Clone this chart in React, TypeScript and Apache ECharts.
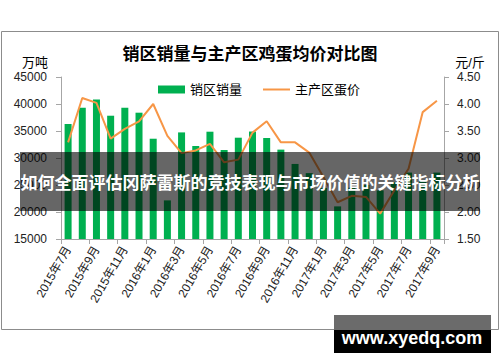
import React, { useEffect, useRef } from "react";
import * as echarts from "echarts";

const categories: string[] = [
  "2015年7月", "2015年8月", "2015年9月", "2015年10月", "2015年11月", "2015年12月",
  "2016年1月", "2016年2月", "2016年3月", "2016年4月", "2016年5月", "2016年6月",
  "2016年7月", "2016年8月", "2016年9月", "2016年10月", "2016年11月", "2016年12月",
  "2017年1月", "2017年2月", "2017年3月", "2017年4月", "2017年5月", "2017年6月",
  "2017年7月", "2017年8月", "2017年9月",
];

const salesVolume: number[] = [
  36300, 39300, 40850, 37830, 39300, 38390,
  33570, 22150, 34740, 32220, 34870, 31480,
  33760, 34900, 33700, 31550, 28900, 27200,
  24450, 21040, 24500, 25000, 24000, 25500,
  27300, 25800, 27300,
];

const eggPrice: number[] = [
  3.29, 4.11, 4.02, 3.36, 3.54, 3.68,
  4.0, 3.41, 3.09, 3.14, 3.26, 2.92,
  2.97, 3.47, 3.68, 3.29, 3.29, 3.1,
  2.65, 2.18, 2.3, 2.28, 1.97, 2.4,
  2.8, 3.85, 4.06,
];

const leftTicks = { min: 15000, max: 45000, interval: 5000 };
const rightTicks = { min: 1.5, max: 4.5, interval: 0.5 };

const titleText = "销区销量与主产区鸡蛋均价对比图";
const seriesNames = ["销区销量", "主产区蛋价"];
const leftUnit = "万吨";
const rightUnit = "元/斤";
const bannerText = "如何全面评估冈萨雷斯的竞技表现与市场价值的关键指标分析";
const watermarkText = "www.xyedq.com";

const CJK = "'Liberation Sans', 'Noto Sans CJK SC', sans-serif";

export default function App() {
  const ref = useRef<HTMLDivElement>(null);

  useEffect(() => {
    if (!ref.current) return;
    const chart = echarts.init(ref.current, undefined, { renderer: "svg" });
    const axisGray = "#a6a6a6";
    chart.setOption({
      animation: false,
      backgroundColor: "#ffffff",
      textStyle: { fontFamily: CJK },
      title: {
        text: titleText,
        left: "center",
        top: 41,
        textStyle: { fontSize: 17, fontWeight: "bold", color: "#000", fontFamily: CJK },
      },
      legend: {
        left: 153,
        top: 78,
        itemWidth: 27,
        itemHeight: 8,
        itemGap: 20,
        textStyle: { fontSize: 13, color: "#000", fontFamily: CJK },
        data: [
          { name: seriesNames[0], icon: "rect" },
          { name: seriesNames[1], itemStyle: { opacity: 0 } },
        ],
      },
      grid: { left: 61, right: 56, top: 77, bottom: 123 },
      xAxis: {
        type: "category",
        data: categories,
        boundaryGap: true,
        axisLine: { show: true, lineStyle: { color: axisGray, width: 1 } },
        axisTick: { show: true, interval: 1, length: 5, alignWithLabel: false, lineStyle: { color: axisGray } },
        axisLabel: {
          interval: 1,
          rotate: 60,
          margin: 8,
          fontSize: 12,
          color: "#222",
          fontFamily: CJK,
        },
        splitLine: { show: false },
      },
      yAxis: [
        {
          type: "value",
          min: leftTicks.min,
          max: leftTicks.max,
          interval: leftTicks.interval,
          axisLine: { show: true, lineStyle: { color: axisGray } },
          axisTick: { show: true, length: 5, lineStyle: { color: axisGray } },
          axisLabel: {
            fontSize: 12,
            color: "#222",
            margin: 14,
            fontFamily: CJK,
            formatter: (v: number) => String(v),
          },
          splitLine: { show: false },
        },
        {
          type: "value",
          min: rightTicks.min,
          max: rightTicks.max,
          interval: rightTicks.interval,
          position: "right",
          axisLine: { show: true, lineStyle: { color: axisGray } },
          axisTick: { show: true, length: 5, lineStyle: { color: axisGray } },
          axisLabel: {
            fontSize: 12,
            color: "#222",
            margin: 13,
            fontFamily: CJK,
            formatter: (v: number) => v.toFixed(2),
          },
          splitLine: { show: false },
        },
      ],
      series: [
        {
          name: seriesNames[0],
          type: "bar",
          yAxisIndex: 0,
          data: salesVolume,
          barWidth: 7,
          itemStyle: { color: "#00b050" },
        },
        {
          name: seriesNames[1],
          type: "line",
          yAxisIndex: 1,
          data: eggPrice,
          symbol: "none",
          lineStyle: { color: "#f79646", width: 2 },
          itemStyle: { color: "#f79646" },
        },
      ],
      graphic: [
        {
          type: "rect",
          shape: { x: 1.5, y: 31.5, width: 497, height: 298 },
          style: { fill: "none", stroke: "#8c8c8c", lineWidth: 1 },
          z: 1,
        },
        {
          type: "text",
          x: 35,
          y: 62,
          style: { text: leftUnit, fill: "#000", font: `13px ${CJK}`, textAlign: "center", textVerticalAlign: "middle" },
        },
        {
          type: "text",
          x: 470,
          y: 62,
          style: { text: rightUnit, fill: "#000", font: `13px ${CJK}`, textAlign: "center", textVerticalAlign: "middle" },
        },
        {
          type: "rect",
          z: 100,
          shape: { x: 20, y: 152, width: 460, height: 59 },
          style: { fill: "rgba(0,0,0,0.6)" },
        },
        {
          type: "text",
          z: 101,
          x: 250,
          y: 183,
          style: {
            text: bannerText,
            fill: "#fff",
            font: `bold 17px ${CJK}`,
            textAlign: "center",
            textVerticalAlign: "middle",
          },
        },
        {
          type: "rect",
          z: 100,
          shape: { x: 334, y: 315, width: 157, height: 15 },
          style: { fill: "#6b6b6b" },
        },
        {
          type: "rect",
          z: 100,
          shape: { x: 334, y: 330, width: 157, height: 23 },
          style: { fill: "#000" },
        },
        {
          type: "text",
          z: 101,
          x: 412,
          y: 338,
          style: {
            text: watermarkText,
            fill: "#fff",
            font: `bold 18px ${CJK}`,
            textAlign: "center",
            textVerticalAlign: "middle",
          },
        },
      ],
    });
    return () => chart.dispose();
  }, []);

  return (
    <div
      ref={ref}
      style={{ position: "fixed", left: 0, top: 0, width: 500, height: 362 }}
    />
  );
}
